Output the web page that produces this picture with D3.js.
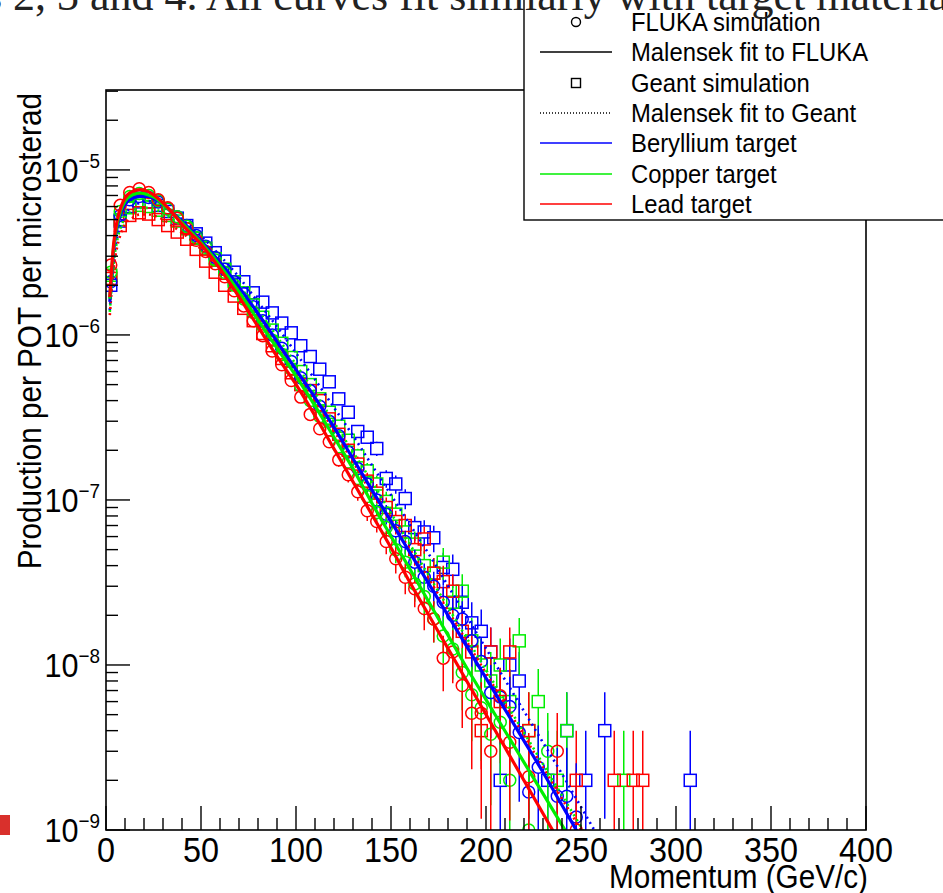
<!DOCTYPE html>
<html>
<head>
<meta charset="utf-8">
<script src="https://cdn.jsdelivr.net/npm/d3@7"></script>
<style>
  body { margin: 0; background: #fff; }
  svg { display: block; }
  text { font-family: 'Liberation Sans', Arial, sans-serif; fill: #000; }
</style>
</head>
<body>
<svg id="chart" width="943" height="893"></svg>
<script>
// bin centres (GeV/c), 5 GeV bins
const binCenters = [
  2.5, 7.5, 12.5, 17.5, 22.5, 27.5, 32.5, 37.5, 42.5, 47.5,
  52.5, 57.5, 62.5, 67.5, 72.5, 77.5, 82.5, 87.5, 92.5, 97.5,
  102.5, 107.5, 112.5, 117.5, 122.5, 127.5, 132.5, 137.5, 142.5, 147.5,
  152.5, 157.5, 162.5, 167.5, 172.5, 177.5, 182.5, 187.5, 192.5, 197.5,
  202.5, 207.5, 212.5, 217.5, 222.5, 227.5, 232.5, 237.5, 242.5, 247.5,
  252.5, 257.5, 262.5, 267.5, 272.5, 277.5, 282.5, 287.5, 292.5, 297.5,
  302.5, 307.5
];

// FLUKA simulation (per POT per microsterad)
const flukaBe = [
  2.1e-6, 5.3e-6, 6.6e-6, 6.9e-6, 6.8e-6, 6.4e-6, 5.8e-6, 5.2e-6, 4.6e-6, 4.0e-6,
  3.45e-6, 2.95e-6, 2.5e-6, 2.1e-6, 1.78e-6, 1.48e-6, 1.22e-6, 1.0e-6, 8.3e-7, 6.9e-7,
  5.5e-7, 4.6e-7, 3.7e-7, 3.0e-7, 2.45e-7, 1.95e-7, 1.55e-7, 1.25e-7, 1.0e-7, 8.2e-8,
  6.5e-8, 5.6e-8, 4.2e-8, 3.4e-8, 3.0e-8, 2.4e-8, 2.0e-8, 1.9e-8, 1.4e-8, 1.05e-8,
  6.8e-9, 6.4e-9, 5.6e-9, 3.9e-9, 1.7e-9, 2.4e-9, null, 1.6e-9, 1.6e-9, 1.2e-9
];
const flukaCu = [
  2.4e-6, 5.6e-6, 6.9e-6, 7.2e-6, 7.0e-6, 6.5e-6, 5.8e-6, 5.2e-6, 4.55e-6, 3.9e-6,
  3.4e-6, 2.85e-6, 2.4e-6, 2.0e-6, 1.65e-6, 1.37e-6, 1.13e-6, 9.3e-7, 7.6e-7, 6.2e-7,
  4.9e-7, 4.0e-7, 3.2e-7, 2.65e-7, 2.1e-7, 1.7e-7, 1.35e-7, 1.05e-7, 8.4e-8, 6.8e-8,
  5.0e-8, 4.2e-8, 3.1e-8, 2.6e-8, 1.9e-8, 1.5e-8, 1.25e-8, 9.0e-9, 6.6e-9, 5.5e-9,
  3.8e-9, 4.5e-9, 2.0e-9, null, 1.0e-9, null, 3.0e-9
];
const flukaPb = [
  2.65e-6, 6.1e-6, 7.3e-6, 7.7e-6, 7.3e-6, 6.6e-6, 5.9e-6, 5.1e-6, 4.4e-6, 3.75e-6,
  3.2e-6, 2.7e-6, 2.25e-6, 1.85e-6, 1.5e-6, 1.22e-6, 9.9e-7, 8.0e-7, 6.6e-7, 5.3e-7,
  4.2e-7, 3.3e-7, 2.7e-7, 2.25e-7, 1.75e-7, 1.42e-7, 1.12e-7, 8.6e-8, 7.4e-8, 5.6e-8,
  4.4e-8, 3.4e-8, 2.9e-8, 2.2e-8, 1.9e-8, 1.1e-8, 1.2e-8, 7.5e-9, 5.1e-9, 5.1e-9,
  3.0e-9, 6.5e-9, 3.4e-9, null, 2.1e-9, null, null, 3.0e-9, null, 1.0e-9
];

// Geant simulation
const geantBe = [
  2.0e-6, 4.9e-6, 6.0e-6, 6.4e-6, 6.4e-6, 6.1e-6, 5.6e-6, 5.1e-6, 4.6e-6, 4.1e-6,
  3.6e-6, 3.15e-6, 2.8e-6, 2.4e-6, 2.1e-6, 1.8e-6, 1.58e-6, 1.36e-6, 1.18e-6, 1.03e-6,
  8.6e-7, 7.4e-7, 6.2e-7, 5.2e-7, 4.1e-7, 3.4e-7, 2.6e-7, 2.4e-7, 2.05e-7, 1.35e-7,
  1.25e-7, 1.02e-7, 6.8e-8, 6.4e-8, 5.9e-8, 3.9e-8, 3.8e-8, 2.4e-8, 1.8e-8, 1.6e-8,
  1.2e-8, 2e-9, 1.0e-8, 8e-9, null, null, 2e-9, null, 4e-9, null,
  2e-9, null, 4e-9, null, null, null, null, null, null, null,
  null, 2e-9
];
const geantCu = [
  2.3e-6, 5.0e-6, 5.9e-6, 6.1e-6, 6.0e-6, 5.7e-6, 5.3e-6, 4.9e-6, 4.4e-6, 3.85e-6,
  3.35e-6, 2.9e-6, 2.5e-6, 2.1e-6, 1.8e-6, 1.52e-6, 1.28e-6, 1.07e-6, 8.9e-7, 7.3e-7,
  6.0e-7, 5.0e-7, 4.1e-7, 3.4e-7, 2.8e-7, 2.3e-7, 1.85e-7, 1.5e-7, 1.25e-7, 9.8e-8,
  8.2e-8, 6.4e-8, 5.4e-8, 4.0e-8, 3.6e-8, 4.2e-8, 2.4e-8, 2.8e-8, 1.4e-8, 1.0e-8,
  8e-9, 1.0e-8, 6e-9, 1.4e-8, 4e-9, 6e-9, null, 2e-9, 4e-9, null,
  null, null, null, null, 2e-9
];
const geantPb = [
  2.2e-6, 4.6e-6, 5.3e-6, 5.5e-6, 5.4e-6, 5.0e-6, 4.6e-6, 4.2e-6, 3.8e-6, 3.3e-6,
  2.8e-6, 2.4e-6, 2.0e-6, 1.72e-6, 1.45e-6, 1.22e-6, 1.02e-6, 8.6e-7, 7.2e-7, 5.9e-7,
  5.0e-7, 4.6e-7, 4.0e-7, 3.1e-7, 2.5e-7, 2.0e-7, 1.65e-7, 1.3e-7, 1.1e-7, 9.0e-8,
  7.4e-8, 7.0e-8, 5.0e-8, 5.8e-8, 3.6e-8, 3.2e-8, 2.8e-8, 1.6e-8, 1.2e-8, 4e-9,
  1.2e-8, 6e-9, 1.2e-8, null, 4e-9, null, null, null, null, 2e-9,
  null, null, null, 2e-9, null, 2e-9, 2e-9
];

// weight of one entry, used for the statistical error bars
const flukaWeight = 1.5e-9;
const geantWeight = 2e-9;

// Malensek fits, sampled (log10 of production)
const fitMomenta = [2, 4, 6, 8, 10, 14, 18, 22, 26, 30, 35, 40, 50, 60, 70, 80, 90, 100,
  110, 120, 130, 140, 150, 160, 170, 180, 190, 200, 210, 220, 230, 240, 250, 260];
const flukaFitBe = [-5.80, -5.49, -5.34, -5.26, -5.21, -5.17, -5.16, -5.16, -5.18, -5.21, -5.26, -5.31,
  -5.43, -5.56, -5.71, -5.87, -6.04, -6.21, -6.38, -6.56, -6.75, -6.94, -7.13, -7.32, -7.51, -7.70,
  -7.89, -8.08, -8.27, -8.46, -8.65, -8.85, -9.05, -9.25];
const flukaFitCu = [-5.78, -5.47, -5.32, -5.24, -5.19, -5.15, -5.14, -5.15, -5.17, -5.21, -5.26, -5.32,
  -5.44, -5.58, -5.74, -5.91, -6.08, -6.25, -6.43, -6.62, -6.81, -7.02, -7.22, -7.42, -7.62, -7.82,
  -8.02, -8.21, -8.40, -8.59, -8.78, -8.97, -9.16, -9.35];
const flukaFitPb = [-5.77, -5.45, -5.30, -5.22, -5.17, -5.13, -5.12, -5.13, -5.16, -5.20, -5.26, -5.33,
  -5.45, -5.60, -5.77, -5.95, -6.13, -6.30, -6.49, -6.69, -6.89, -7.09, -7.29, -7.50, -7.70, -7.90,
  -8.10, -8.30, -8.50, -8.70, -8.90, -9.10, -9.30, -9.50];
const geantFitBe = [-5.85, -5.55, -5.40, -5.32, -5.27, -5.22, -5.20, -5.19, -5.20, -5.22, -5.26, -5.30,
  -5.40, -5.52, -5.65, -5.80, -5.95, -6.11, -6.27, -6.44, -6.61, -6.79, -6.97, -7.15, -7.33, -7.52,
  -7.71, -7.90, -8.09, -8.28, -8.47, -8.66, -8.86, -9.06];
const geantFitCu = [-5.86, -5.57, -5.42, -5.34, -5.29, -5.25, -5.23, -5.23, -5.24, -5.26, -5.30, -5.34,
  -5.44, -5.56, -5.70, -5.85, -6.01, -6.18, -6.35, -6.53, -6.71, -6.89, -7.08, -7.27, -7.46, -7.65,
  -7.84, -8.03, -8.22, -8.41, -8.60, -8.79, -8.98, -9.17];
const geantFitPb = [-5.88, -5.60, -5.46, -5.38, -5.33, -5.29, -5.27, -5.27, -5.28, -5.30, -5.34, -5.38,
  -5.48, -5.60, -5.74, -5.89, -6.05, -6.22, -6.40, -6.58, -6.77, -6.96, -7.12, -7.30, -7.48, -7.67,
  -7.86, -8.05, -8.24, -8.43, -8.62, -8.81, -9.00, -9.19];

const xTicks = [0, 50, 100, 150, 200, 250, 300, 350, 400];
const yDecades = [-9, -8, -7, -6, -5];
const legendLabels = ["FLUKA simulation", "Malensek fit to FLUKA", "Geant simulation",
  "Malensek fit to Geant", "Beryllium target", "Copper target", "Lead target"];

const targets = [
  { name: "Be", color: "#0000ff", fluka: flukaBe, geant: geantBe, flukaFit: flukaFitBe, geantFit: geantFitBe },
  { name: "Cu", color: "#00ee00", fluka: flukaCu, geant: geantCu, flukaFit: flukaFitCu, geantFit: geantFitCu },
  { name: "Pb", color: "#ff0000", fluka: flukaPb, geant: geantPb, flukaFit: flukaFitPb, geantFit: geantFitPb }
];

const yMin = 1e-9, yMax = 3.05e-5;
const frame = { left: 106, right: 866, top: 90, bottom: 830 };
const squeeze = 0.9; // the picture's lettering is a bit narrow

const svg = d3.select('#chart');
const x = d3.scaleLinear().domain([0, 400]).range([frame.left, frame.right]);
const y = d3.scaleLog().domain([yMin, yMax]).range([frame.bottom, frame.top]);

function label(g, px, py, str, size, anchor, rotate) {
  return g.append('text')
    .attr('transform', `translate(${px},${py})` + (rotate ? ` rotate(${rotate})` : '') + ` scale(${squeeze},1)`)
    .attr('text-anchor', anchor)
    .style('font-size', size + 'px')
    .text(str);
}

svg.append('rect').attr('x', 0).attr('y', 815).attr('width', 10).attr('height', 20).attr('fill', '#d9302c');

svg.append('defs').append('clipPath').attr('id', 'plotclip')
  .append('rect')
  .attr('x', frame.left).attr('y', frame.top)
  .attr('width', frame.right - frame.left).attr('height', frame.bottom - frame.top);

const plot = svg.append('g').attr('clip-path', 'url(#plotclip)');

const markerR = 6;

function drawPoints(values, weight, color, shape) {
  const g = plot.append('g');
  binCenters.forEach((p, i) => {
    const v = values[i];
    if (v == null || v < yMin * 0.98) return;
    const cx = x(p), cy = y(v);
    const err = Math.sqrt(v * weight);
    const hi = y(v + err);
    const lo = v - err > yMin * 0.5 ? y(v - err) : frame.bottom + 5;
    if (hi < cy - markerR) {
      g.append('line').attr('x1', cx).attr('x2', cx).attr('y1', hi).attr('y2', cy - markerR)
        .attr('stroke', color).attr('stroke-width', 1.5);
    }
    if (lo > cy + markerR) {
      g.append('line').attr('x1', cx).attr('x2', cx).attr('y1', cy + markerR).attr('y2', lo)
        .attr('stroke', color).attr('stroke-width', 1.5);
    }
    if (shape === 'circle') {
      g.append('circle').attr('cx', cx).attr('cy', cy).attr('r', markerR)
        .attr('fill', 'none').attr('stroke', color).attr('stroke-width', 1.5);
    } else {
      g.append('rect').attr('x', cx - markerR).attr('y', cy - markerR)
        .attr('width', markerR * 2).attr('height', markerR * 2)
        .attr('fill', 'none').attr('stroke', color).attr('stroke-width', 1.5);
    }
  });
}

const fitLine = d3.line()
  .x(d => x(d[0]))
  .y(d => y(Math.pow(10, d[1])))
  .curve(d3.curveMonotoneX);

// markers first, then fits on top (Be, Cu, Pb)
targets.forEach(t => drawPoints(t.geant, geantWeight, t.color, 'square'));
targets.forEach(t => drawPoints(t.fluka, flukaWeight, t.color, 'circle'));
targets.forEach(t => {
  plot.append('path')
    .datum(fitMomenta.map((p, i) => [p, t.geantFit[i]]))
    .attr('d', fitLine)
    .attr('fill', 'none').attr('stroke', t.color)
    .attr('stroke-width', 2.6).attr('stroke-dasharray', '2,4');
});
targets.forEach(t => {
  plot.append('path')
    .datum(fitMomenta.map((p, i) => [p, t.flukaFit[i]]))
    .attr('d', fitLine)
    .attr('fill', 'none').attr('stroke', t.color)
    .attr('stroke-width', 3.2);
});

// frame and ticks
const axes = svg.append('g').attr('stroke', '#000');
axes.append('rect')
  .attr('x', frame.left).attr('y', frame.top)
  .attr('width', frame.right - frame.left).attr('height', frame.bottom - frame.top)
  .attr('fill', 'none').attr('stroke-width', 1.6);

d3.range(0, 401, 10).forEach(v => {
  const major = v % 50 === 0;
  axes.append('line').attr('x1', x(v)).attr('x2', x(v))
    .attr('y1', frame.bottom).attr('y2', frame.bottom - (major ? 24 : 12))
    .attr('stroke-width', 1.4);
});
yDecades.forEach(k => {
  for (let m = 1; m <= 9; m++) {
    const v = m * Math.pow(10, k);
    if (v > yMax) break;
    axes.append('line').attr('x1', frame.left).attr('x2', frame.left + (m === 1 ? 24 : 12))
      .attr('y1', y(v)).attr('y2', y(v)).attr('stroke-width', 1.4);
  }
});

// tick labels
const labels = svg.append('g');
xTicks.forEach(v => label(labels, x(v), 862, String(v), 36, 'middle'));
yDecades.forEach(k => {
  const t = labels.append('text')
    .attr('transform', `translate(100,${y(Math.pow(10, k)) + 12}) scale(${squeeze},1)`)
    .attr('text-anchor', 'end')
    .style('font-size', '34px');
  t.append('tspan').text('10');
  t.append('tspan').attr('dy', -14).style('font-size', '21px').text('\u2212' + (-k));
});

// axis titles
label(labels, 868, 888, 'Momentum (GeV/c)', 33, 'end');
label(labels, 41, 93, 'Production per POT per microsterad', 33, 'end', -90);

// legend
const legend = svg.append('g');
legend.append('rect')
  .attr('x', 524).attr('y', -5).attr('width', 440).attr('height', 225)
  .attr('fill', '#fff').attr('stroke', '#000').attr('stroke-width', 1.4);
const rowY = [22, 52, 83, 113, 143, 174, 204];
legendLabels.forEach((txt, i) => label(legend, 631, rowY[i] + 9, txt, 26.5, 'start'));
legend.append('circle').attr('cx', 576).attr('cy', rowY[0]).attr('r', 4.5)
  .attr('fill', 'none').attr('stroke', '#000').attr('stroke-width', 1.4);
legend.append('line').attr('x1', 540).attr('x2', 612).attr('y1', rowY[1]).attr('y2', rowY[1])
  .attr('stroke', '#000').attr('stroke-width', 1.6);
legend.append('rect').attr('x', 571.5).attr('y', rowY[2] - 4.5).attr('width', 9).attr('height', 9)
  .attr('fill', 'none').attr('stroke', '#000').attr('stroke-width', 1.4);
legend.append('line').attr('x1', 540).attr('x2', 612).attr('y1', rowY[3]).attr('y2', rowY[3])
  .attr('stroke', '#000').attr('stroke-width', 1.6).attr('stroke-dasharray', '1,2');
targets.forEach((t, i) => {
  legend.append('line').attr('x1', 540).attr('x2', 612).attr('y1', rowY[4 + i]).attr('y2', rowY[4 + i])
    .attr('stroke', t.color).attr('stroke-width', 1.6);
});

// slide leftover: the cut-off sentence above the figure
svg.append('text')
  .attr('x', -130).attr('y', 10)
  .style('font-family', "'Liberation Serif', 'DejaVu Serif', serif")
  .style('font-size', '44px')
  .style('fill', '#222')
  .text('Figures 2, 3 and 4. All curves fit similarly with target materials.');
</script>
</body>
</html>
